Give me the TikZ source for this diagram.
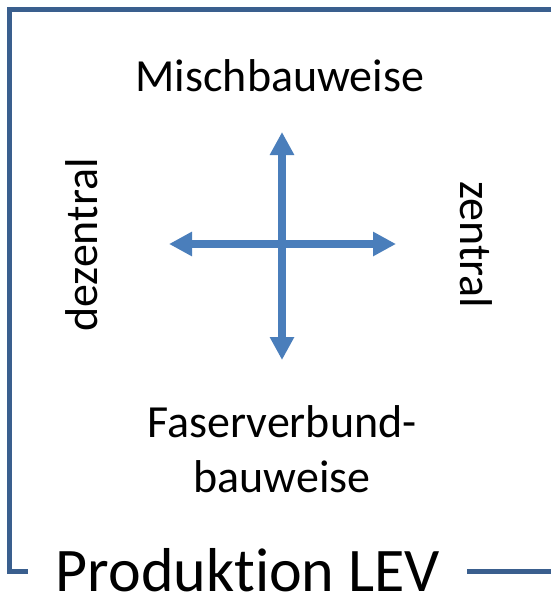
\documentclass[tikz,border=0pt]{standalone}
\usepackage{fontspec}
\setmainfont{Carlito}[Ligatures=NoCommon]
\usetikzlibrary{arrows.meta}
\definecolor{framecol}{HTML}{3A5F8E}
\definecolor{arrcol}{HTML}{4A7EBB}
\tikzset{
  frameline/.style={draw=framecol, line width=5pt, line join=miter},
  axisarrow/.style={draw=arrcol, line width=7.5pt,
    {Triangle[width=23pt,length=23pt]}-{Triangle[width=23pt,length=23pt]}},
  lbl/.style={font=\fontsize{46}{55}\selectfont, inner sep=0pt, anchor=base, align=center},
  titlelbl/.style={font=\fontsize{62}{70}\selectfont, inner sep=0pt, anchor=base, text depth=0pt}
}
\begin{document}
\begin{tikzpicture}[x=1pt,y=-1pt]
\useasboundingbox (0,0) rectangle (551,599);
% frame
\coordinate (ftr) at (551,9.5);
\coordinate (fbl) at (9.5,571);
\coordinate (fle) at (28,571);
\coordinate (frs) at (467,571.5);
\coordinate (fre) at (551,571.5);
\draw[frameline] (ftr) -| (fbl) -- (fle);
\draw[frameline] (frs) -- (fre);
% axes
\coordinate (top) at (282,132);
\coordinate (bot) at (282,360);
\coordinate (lft) at (169,244);
\coordinate (rgt) at (396,244);
\draw[axisarrow] (bot) -- (top);
\draw[axisarrow] (lft) -- (rgt);
% labels
\node[lbl] (misch) at (280,92) {Mischbauweise};
\node[lbl] (faser) at (282,492) {Faserverbund-\\bauweise};
\node[lbl, rotate=90] (dez) at (97,245) {dezentral};
\node[lbl, rotate=-90] (zen) at (460,245) {zentral};
\node[titlelbl] (title) at (248,591) {Produktion LEV};
\end{tikzpicture}
\end{document}
